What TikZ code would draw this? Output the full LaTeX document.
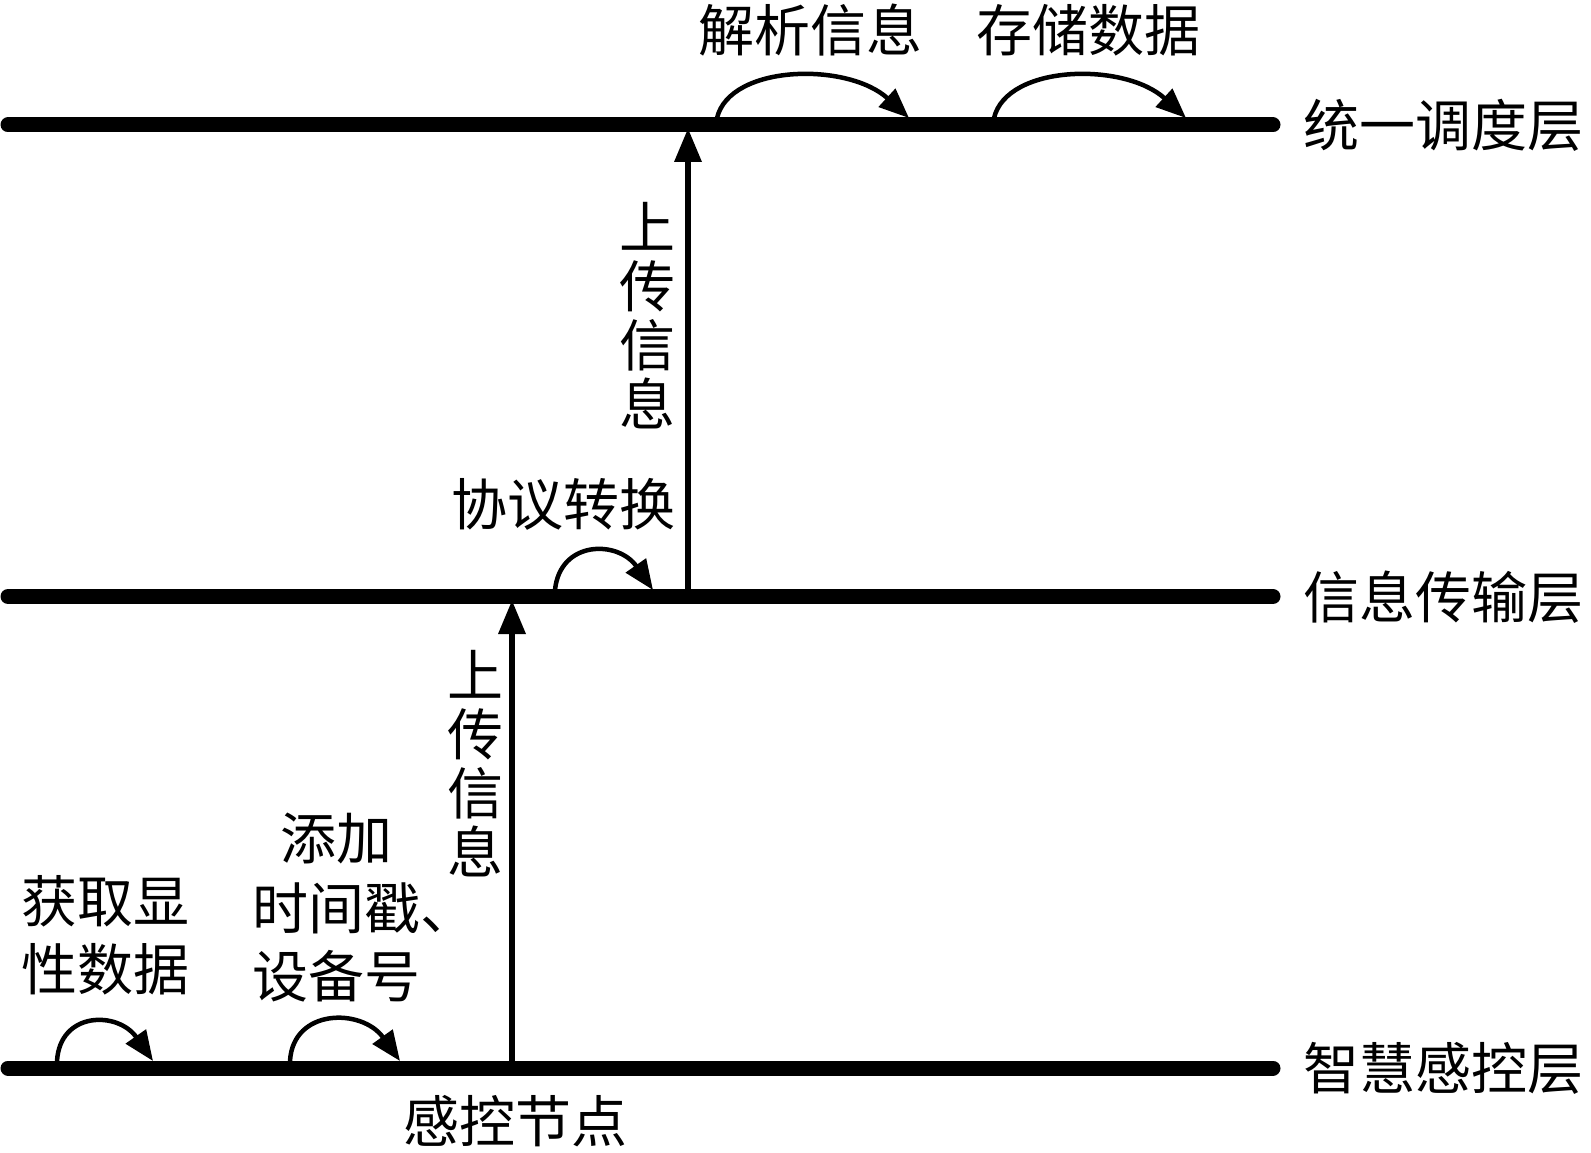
\documentclass[tikz,border=0pt]{standalone}
\usepackage{fontspec}
\newfontfamily\cjk{Noto Sans CJK SC}
\usetikzlibrary{arrows.meta}
\begin{document}
\begin{tikzpicture}[x=1pt,y=-1pt,
  layer/.style={line width=15pt, line cap=round},
  upflow/.style={line width=6.5pt, -{Triangle[length=34pt,width=26pt]}},
  turn/.style={line width=4.5pt, -{Triangle[length=30pt,width=24pt]}},
  lbl/.style={font=\cjk\fontsize{56}{58}\selectfont, inner sep=0pt, align=center},
  vlbl/.style={font=\cjk\fontsize{56}{59}\selectfont, inner sep=0pt, align=center}]
\useasboundingbox (0,0) rectangle (1591,1153);

% layer lines
\coordinate (topL) at (8,125);   \coordinate (topR) at (1273,125);
\coordinate (midL) at (8,596.5); \coordinate (midR) at (1273,596.5);
\coordinate (botL) at (8,1068);  \coordinate (botR) at (1273,1068);
\draw[layer] (topL) -- (topR);
\draw[layer] (midL) -- (midR);
\draw[layer] (botL) -- (botR);

% layer names
\node[lbl] (nTop) at (1443,125) {统一调度层};
\node[lbl] (nMid) at (1443,597) {信息传输层};
\node[lbl] (nBot) at (1443,1068) {智慧感控层};

% vertical arrows
\coordinate (v1s) at (688,589);  \coordinate (v1e) at (688,128);
\coordinate (v2s) at (512,1061); \coordinate (v2e) at (512,600);
\draw[upflow] (v1s) -- (v1e);
\draw[upflow] (v2s) -- (v2e);
\node[vlbl] (up1) at (647,316) {上\\传\\信\\息};
\node[vlbl] (up2) at (475,764) {上\\传\\信\\息};

% top curved arrows
\coordinate (a1s) at (717,118); \coordinate (a1e) at (909,118);
\draw[turn] (a1s) .. controls (730,64) and (848,62) .. (a1e);
\coordinate (a2s) at (994,118); \coordinate (a2e) at (1186,118);
\draw[turn] (a2s) .. controls (1007,64) and (1125,62) .. (a2e);
\node[lbl] (tA) at (810,30) {解析信息};
\node[lbl] (tB) at (1088,30) {存储数据};

% middle curved arrow
\coordinate (a3s) at (555,590); \coordinate (a3e) at (653,590);
\draw[turn] (a3s) .. controls (560,540) and (618,540) .. (a3e);
\node[lbl] (tC) at (563,504) {协议转换};

% bottom curved arrows
\coordinate (a4s) at (57,1061); \coordinate (a4e) at (153,1061);
\draw[turn] (a4s) .. controls (60,1011) and (118,1011) .. (a4e);
\coordinate (a5s) at (290,1061); \coordinate (a5e) at (400,1061);
\draw[turn] (a5s) .. controls (293,1008) and (362,1008) .. (a5e);

\node[lbl] (tD1) at (105,901) {获取显};
\node[lbl] (tD2) at (105,969) {性数据};
\node[lbl] (tE1) at (336,838) {添加};
\node[lbl, anchor=west] (tE2) at (252,908) {时间戳、};
\node[lbl, anchor=west] (tE3) at (252,976) {设备号};
\node[lbl] (tF) at (515,1121) {感控节点};
\end{tikzpicture}
\end{document}
